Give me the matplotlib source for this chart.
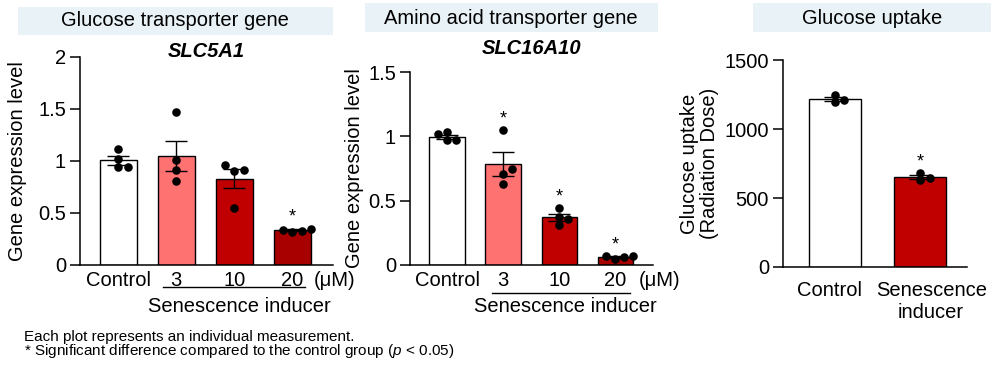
import matplotlib
matplotlib.use('Agg')
import matplotlib.pyplot as plt
import numpy as np
from matplotlib.transforms import blended_transform_factory, ScaledTranslation
from matplotlib.patches import Rectangle

plt.rcParams['font.family'] = ['Liberation Sans', 'DejaVu Sans']
plt.rcParams['mathtext.fontset'] = 'custom'
plt.rcParams['mathtext.it'] = 'Liberation Sans:italic'
plt.rcParams['mathtext.rm'] = 'Liberation Sans'

# ---------------- data ----------------
slc5a1_groups = ['Control', '3', '10', '20']
slc5a1_points = [[1.12, 1.02, 0.94, 0.94],
                 [1.47, 1.01, 0.91, 0.81],
                 [0.91, 0.96, 0.90, 0.55],
                 [0.32, 0.35, 0.33, 0.34]]
slc5a1_sig = [False, False, False, True]
slc5a1_yticks = [0, 0.5, 1, 1.5, 2]

slc16a10_groups = ['Control', '3', '10', '20']
slc16a10_points = [[1.02, 1.03, 0.97, 0.97],
                   [1.05, 0.75, 0.71, 0.63],
                   [0.44, 0.375, 0.355, 0.31],
                   [0.05, 0.07, 0.06, 0.07]]
slc16a10_sig = [False, True, True, True]
slc16a10_yticks = [0, 0.5, 1, 1.5]

uptake_groups = ['Control', 'Senescence\ninducer']
uptake_points = [[1243, 1193, 1212],
                 [680, 630, 645]]
uptake_sig = [False, True]
uptake_yticks = [0, 500, 1000, 1500]

gene_colors = ['white', '#FF7272', '#C00000', '#A80000']
uptake_colors = ['white', '#C00000']
header_color = '#E9F2F6'

W, H = 1000, 374
FS = 14.5

fig = plt.figure(figsize=(W / 100, H / 100), dpi=100)


def px_axes(l, r, top, bottom):
    return fig.add_axes([l / W, (H - bottom) / H, (r - l) / W, (bottom - top) / H])


def swarm(vals, dx, dy):
    order = np.argsort(vals)
    placed = []
    offs = np.zeros(len(vals))
    for i in order:
        for cand in [0, dx, -dx, 2 * dx, -2 * dx]:
            ok = all(not (abs(cand - o) < dx * 0.95 and abs(vals[i] - v) < dy) for o, v in placed)
            if ok:
                offs[i] = cand
                placed.append((cand, vals[i]))
                break
    return offs


def panel(ax, groups, points, sig, colors, yticks, width, dx, dy, ylim, xlim):
    x = np.arange(len(groups))
    means = [np.mean(p) for p in points]
    sems = [np.std(p, ddof=1) / np.sqrt(len(p)) for p in points]
    ax.bar(x, means, width=width, color=colors, edgecolor='black', linewidth=1.0, zorder=1)
    ax.errorbar(x, means, yerr=sems, fmt='none', ecolor='black', elinewidth=1.0,
                capsize=8, capthick=1.0, zorder=2)
    for i, p in enumerate(points):
        offs = swarm(np.array(p, dtype=float), dx, dy)
        ax.scatter(i + offs, p, s=38, color='black', zorder=3, linewidths=0)
        if sig[i]:
            ax.annotate('*', xy=(i, max(p)), xytext=(0, 2), textcoords='offset points',
                        ha='center', va='bottom', fontsize=13)
    ax.set_ylim(*ylim)
    ax.set_xlim(*xlim)
    ax.set_yticks(yticks)
    ax.set_yticklabels(['{:g}'.format(t) for t in yticks])
    ax.set_xticks(x)
    ax.set_xticklabels(groups)
    for s in ['top', 'right']:
        ax.spines[s].set_visible(False)
    for s in ['left', 'bottom']:
        ax.spines[s].set_linewidth(1.1)
    ax.tick_params(axis='y', direction='out', length=7, width=1.1, labelsize=FS, pad=3)
    ax.tick_params(axis='x', length=0, labelsize=FS, pad=4)


# ---------- panel 1 ----------
ax1 = px_axes(80, 333, 57, 265)
panel(ax1, slc5a1_groups, slc5a1_points, slc5a1_sig, gene_colors, slc5a1_yticks,
      0.64, 0.16, 0.075, (0, 2), (-0.66, 3.7))
ax1.set_ylabel('Gene expression level', fontsize=FS, labelpad=8)
ax1.text(0.5, 1.025, 'SLC5A1', transform=ax1.transAxes, ha='center', va='center',
         fontsize=FS, fontweight='bold', fontstyle='italic')

# ---------- panel 2 ----------
ax2 = px_axes(410, 653, 72, 265)
panel(ax2, slc16a10_groups, slc16a10_points, slc16a10_sig, gene_colors, slc16a10_yticks,
      0.63, 0.16, 0.06, (0, 1.5), (-0.66, 3.67))
ax2.set_ylabel('Gene expression level', fontsize=FS, labelpad=3)
ax2.text(0.5, 1.12, 'SLC16A10', transform=ax2.transAxes, ha='center', va='center',
         fontsize=FS, fontweight='bold', fontstyle='italic')

# ---------- panel 3 ----------
ax3 = px_axes(783, 967, 60, 267)
panel(ax3, uptake_groups, uptake_points, uptake_sig, uptake_colors, uptake_yticks,
      0.61, 0.11, 40, (0, 1500), (-0.61, 1.55))
ax3.tick_params(axis='x', pad=10)
ax3.set_ylabel('Glucose uptake\n(Radiation Dose)', fontsize=FS, labelpad=4, linespacing=1.1)
for lab, shift in zip(ax3.get_xticklabels(), [-5, 11]):
    lab.set_transform(lab.get_transform() + ScaledTranslation(shift / 100, 0, fig.dpi_scale_trans))

# ---------- dose annotations ----------
for ax, line_y, x0, x1, unit_x, lab_x in [(ax1, 287, 0.77, 3.22, 3.36, 2.08),
                                          (ax2, 293, 0.80, 3.26, 3.42, 2.1)]:
    tr = blended_transform_factory(ax.transData, fig.transFigure)
    ax.plot([x0, x1], [(H - line_y) / H] * 2, transform=tr, color='black', lw=1.0, clip_on=False)
    ax.text(unit_x, (H - 281) / H, '(μM)', transform=tr, ha='left', va='center', fontsize=FS)
    ax.text(lab_x, (H - 307) / H, 'Senescence inducer', transform=tr, ha='center', va='center',
            fontsize=FS)

# ---------- headers ----------
for (l, r, t, b, cx, cy, txt) in [(18, 333, 7, 35, 175, 21, 'Glucose transporter gene'),
                                  (365, 658, 3, 32, 511, 18, 'Amino acid transporter gene'),
                                  (753, 991, 3, 32, 872, 18, 'Glucose uptake')]:
    fig.patches.append(Rectangle((l / W, (H - b) / H), (r - l) / W, (b - t) / H,
                                 transform=fig.transFigure, facecolor=header_color,
                                 edgecolor='none', zorder=0))
    fig.text(cx / W, (H - cy) / H, txt, ha='center', va='center', fontsize=FS)

# ---------- footnotes ----------
fig.text(24 / W, (H - 337) / H, 'Each plot represents an individual measurement.',
         ha='left', va='center', fontsize=11)
fig.text(24 / W, (H - 351) / H,
         '* Significant difference compared to the control group ($\\it{p}$ < 0.05)',
         ha='left', va='center', fontsize=11)

fig.savefig('out.png', dpi=100)
